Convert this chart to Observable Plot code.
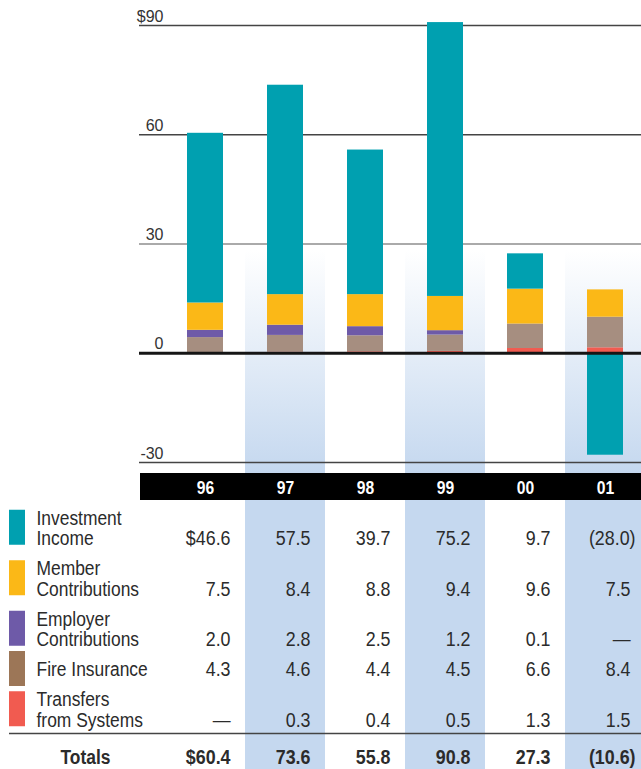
<!DOCTYPE html>
<html><head><meta charset="utf-8">
<script src="https://cdn.jsdelivr.net/npm/d3@7"></script>
<script src="https://cdn.jsdelivr.net/npm/@observablehq/plot@0.6"></script>
<style>
html,body{margin:0;padding:0;background:#fff;overflow:hidden;}
#chart svg,#table svg{display:block;}
</style></head><body><div id="chart"></div><div id="table"></div>
<script>
// ---- data ----
const years = ["96","97","98","99","00","01"];
const shadedYears = ["97","99","01"];
const seriesNames = ["Investment Income","Member Contributions","Employer Contributions","Fire Insurance","Transfers from Systems"];
const legendLabels = [["Investment","Income"],["Member","Contributions"],["Employer","Contributions"],["Fire Insurance"],["Transfers","from Systems"]];
const investmentIncome = [46.6, 57.5, 39.7, 75.2, 9.7, -28.0];
const memberContributions = [7.5, 8.4, 8.8, 9.4, 9.6, 7.5];
const employerContributions = [2.0, 2.8, 2.5, 1.2, 0.1, null];
const fireInsurance = [4.3, 4.6, 4.4, 4.5, 6.6, 8.4];
const transfersFromSystems = [null, 0.3, 0.4, 0.5, 1.3, 1.5];
const totals = [60.4, 73.6, 55.8, 90.8, 27.3, -10.6];
const yTicks = [90, 60, 30, 0, -30];

// ---- styles ----
const barColors = ["#00a0b0","#fbb817","#6e5aa8","#a68e80","#f15b50"];
const swatchColors = ["#00a0b0","#fbb817","#6e5aa8","#9c7657","#f15b50"];
const sans = "'Liberation Sans',Arial,Helvetica,sans-serif";
const textColor = "#2b2b2b";
const condenseX = 0.87;

const seriesValues = [investmentIncome, memberContributions, employerContributions, fireInsurance, transfersFromSystems];
const stackOrder = [...seriesNames].reverse(); // bottom of stack first

const barData = [];
years.forEach((yr, i) => {
  stackOrder.forEach(s => {
    const v = seriesValues[seriesNames.indexOf(s)][i];
    if (v != null) barData.push({year: yr, series: s, value: v});
  });
});

const xBand = {type: "band", domain: years, range: [165, 645], padding: 0, axis: null};

// ---- chart ----
const chart = Plot.plot({
  width: 641, height: 472,
  marginTop: 25, marginBottom: 10, marginLeft: 139, marginRight: 0,
  x: xBand,
  y: {domain: [-30, 90], axis: null},
  color: {domain: seriesNames, range: barColors},
  style: {background: "transparent", fontFamily: sans},
  marks: [
    Plot.cell(shadedYears, {x: d => d, fill: "url(#bandFade)", insetBottom: -10}),
    Plot.ruleY(yTicks.filter(d => d !== 0), {y: d => d, stroke: d => d === 30 ? "#8e8e8e" : "#444", strokeWidth: 1.5}),
    Plot.barY(barData, {x: "year", y: "value", fill: "series", z: "series", order: stackOrder, insetLeft: 22, insetRight: 22}),
    Plot.ruleY([0], {stroke: "#151515", strokeWidth: 3}),
    Plot.text(yTicks, {y: d => d, text: d => d === 90 ? "$90" : String(d), frameAnchor: "left", dx: 24,
      textAnchor: "end", lineAnchor: "bottom", dy: -4, fontSize: 16, fill: "#333"})
  ]
});
{
  const svg = d3.select(chart);
  const defs = svg.insert("defs", ":first-child");
  const g = defs.append("linearGradient").attr("id", "bandFade").attr("gradientUnits", "userSpaceOnUse")
    .attr("x1", 0).attr("x2", 0).attr("y1", 250).attr("y2", 472);
  g.append("stop").attr("offset", 0).attr("stop-color", "#ffffff");
  g.append("stop").attr("offset", 1).attr("stop-color", "#c5d8ef");
}
document.getElementById("chart").append(chart);

// ---- table layout (derived from label line counts) ----
const lineH = 20.5, rowGap = 9.5, firstBaseline = 52, swatchH = 35;
let cursor = firstBaseline;
const rows = [];
const labelLines = [];
legendLabels.forEach((lines, i) => {
  const first = cursor, last = first + (lines.length - 1) * lineH;
  lines.forEach((t, k) => labelLines.push({text: t, y: first + k * lineH}));
  cursor = last + lineH + rowGap;
  const mid = (first - 15 + last) / 2;
  rows.push({name: seriesNames[i], i, last, swatchTop: mid - swatchH / 2 + 0.5});
});
const lastRow = rows[rows.length - 1].last;
const sepY = lastRow + 7;
const totalsY = lastRow + 37;

const fmt = (v, j, money) => v == null ? "—" : v < 0 ? `(${Math.abs(v).toFixed(1)})` : ((j === 0 && money) ? "$" : "") + v.toFixed(1);

const cells = [];
rows.forEach(r => {
  seriesValues[r.i].forEach((v, j) => cells.push({year: years[j], y: r.last, v, text: fmt(v, j, r.i === 0)}));
});
const totalCells = totals.map((v, j) => ({year: years[j], y: totalsY, v, text: fmt(v, j, true)}));

// the frame's left edge is the label column; swatches, rules and header are inset relative to it
const labelLeft = 36;
const table = Plot.plot({
  width: 641, height: 297,
  marginTop: 0, marginBottom: 0, marginLeft: labelLeft, marginRight: 0,
  x: xBand,
  y: {type: "identity", axis: null},
  color: {domain: seriesNames, range: swatchColors},
  style: {background: "transparent", fontFamily: sans},
  marks: [
    Plot.cell(shadedYears, {x: d => d, fill: "#c5d8ef"}),
    Plot.rect([0], {y1: 1, y2: 28, fill: "#000", insetLeft: 140 - labelLeft}),
    Plot.text(years, {x: d => d, y: 21, text: d => d, fill: "#fff", fontWeight: "bold", fontSize: 18, lineAnchor: "bottom"}),
    Plot.rect(rows, {y1: "swatchTop", y2: r => r.swatchTop + swatchH, fill: "name", insetLeft: 9 - labelLeft, insetRight: 641 - 25}),
    Plot.text(labelLines, {y: "y", text: "text", frameAnchor: "left", textAnchor: "start", lineAnchor: "bottom", fontSize: 20, fill: textColor}),
    Plot.text(cells.filter(d => !(d.v < 0)), {x: "year", y: "y", text: "text", dx: 25, textAnchor: "end", lineAnchor: "bottom", fontSize: 20.5, fill: textColor}),
    Plot.text(cells.filter(d => d.v < 0), {x: "year", y: "y", text: "text", dx: 30, textAnchor: "end", lineAnchor: "bottom", fontSize: 20.5, fill: textColor}),
    Plot.ruleY([sepY], {insetLeft: 9 - labelLeft, stroke: "#444", strokeWidth: 1.5}),
    Plot.text(["Totals"], {y: totalsY, text: d => d, frameAnchor: "left", dx: 24, textAnchor: "start", lineAnchor: "bottom", fontSize: 20, fontWeight: "bold", fill: textColor}),
    Plot.text(totalCells.filter(d => !(d.v < 0)), {x: "year", y: "y", text: "text", dx: 25, textAnchor: "end", lineAnchor: "bottom", fontSize: 20.5, fontWeight: "bold", fill: textColor}),
    Plot.text(totalCells.filter(d => d.v < 0), {x: "year", y: "y", text: "text", dx: 30, textAnchor: "end", lineAnchor: "bottom", fontSize: 20.5, fontWeight: "bold", fill: textColor})
  ]
});
document.getElementById("table").append(table);
// condensed look: compress each table text's glyphs to a narrower length
d3.select(table).selectAll("text").each(function() {
  const len = this.getComputedTextLength();
  if (len > 0) {
    this.setAttribute("textLength", (len * condenseX).toFixed(2));
    this.setAttribute("lengthAdjust", "spacingAndGlyphs");
  }
});
</script></body></html>
